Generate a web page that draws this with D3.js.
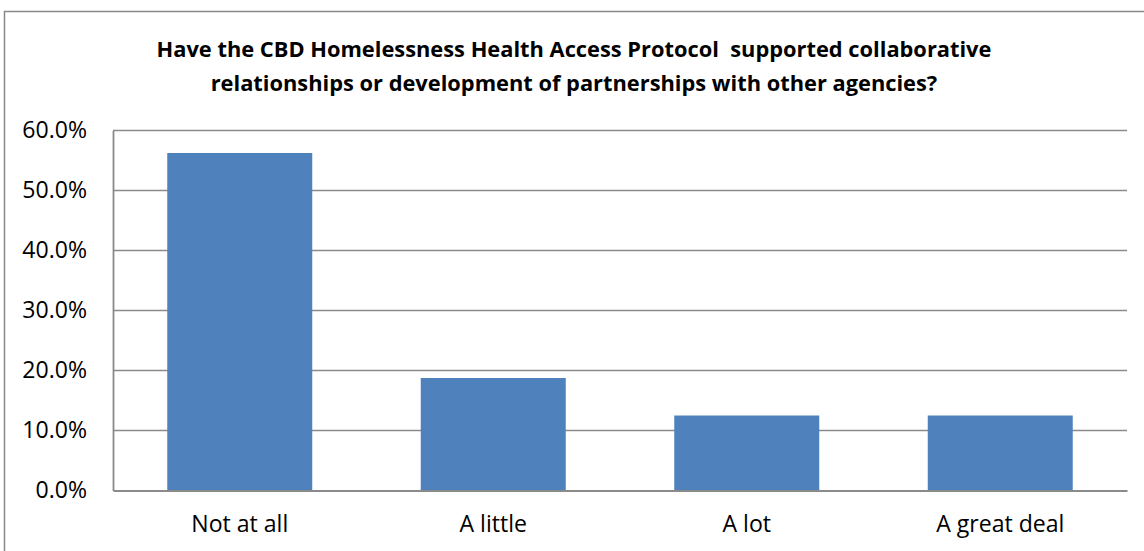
<!DOCTYPE html>
<html>
<head>
<meta charset="utf-8">
<script src="https://cdn.jsdelivr.net/npm/d3@7/dist/d3.min.js"></script>
<style>
  html, body { margin: 0; padding: 0; background: #fff; }
  svg { display: block; }
  text { font-family: "Open Sans", sans-serif; fill: #000; font-variant-ligatures: none; }
</style>
</head>
<body>
<script>
// Survey responses (share of respondents)
const categories = ["Not at all", "A little", "A lot", "A great deal"];
const values = [0.5625, 0.1875, 0.125, 0.125];
const yTicks = [0, 0.1, 0.2, 0.3, 0.4, 0.5, 0.6];
const titleLines = [
  "Have the CBD Homelessness Health Access Protocol  supported collaborative",
  "relationships or development of partnerships with other agencies?"
];

const W = 1144, H = 551;
const plot = { left: 113, right: 1127, top: 130.5, bottom: 490.5 };

const svg = d3.select("body").append("svg")
  .attr("width", W).attr("height", H);

// Pick a font size so that a sample string spans the wanted width
function fitSize(sample, width, weight) {
  const t = svg.append("text").attr("font-size", 100)
    .attr("font-weight", weight).attr("xml:space", "preserve").text(sample);
  const w = t.node().getComputedTextLength();
  t.remove();
  return 100 * width / w;
}

// Chart-area frame (runs off the right and bottom edges)
svg.append("rect")
  .attr("x", 4.5).attr("y", 11.5)
  .attr("width", 1300).attr("height", 700)
  .attr("fill", "#fff").attr("stroke", "#888888").attr("stroke-width", 1.5);

// Title
const titleSize = fitSize(titleLines[0], 835, "bold");
svg.append("g").selectAll("text").data(titleLines).join("text")
  .attr("x", 574).attr("y", (d, i) => 57 + i * 34)
  .attr("text-anchor", "middle")
  .attr("font-weight", "bold").attr("font-size", titleSize)
  .attr("xml:space", "preserve")
  .text(d => d);

const x = d3.scaleBand().domain(categories)
  .range([plot.left, plot.right]).paddingInner(0.428).paddingOuter(0.214);
const y = d3.scaleLinear().domain([0, 0.6]).range([plot.bottom, plot.top]);

// Gridlines
svg.append("g").selectAll("line").data(yTicks.slice(1)).join("line")
  .attr("x1", plot.left).attr("x2", plot.right)
  .attr("y1", d => y(d)).attr("y2", d => y(d))
  .attr("stroke", "#8a8a8a").attr("stroke-width", 1.6);

// Bars
svg.append("g").selectAll("rect").data(values).join("rect")
  .attr("x", (d, i) => x(categories[i]))
  .attr("width", x.bandwidth())
  .attr("y", d => y(d))
  .attr("height", d => y(0) - y(d))
  .attr("fill", "#4f81bd");

const labelSize = fitSize("Not at all", 97, "normal");

// Y axis
const yAxis = d3.axisLeft(y).tickValues(yTicks)
  .tickFormat(d3.format(".1%")).tickSize(0).tickPadding(26);
const gy = svg.append("g").attr("transform", `translate(${plot.left},0)`).call(yAxis);
gy.select(".domain").attr("stroke", "#8a8a8a").attr("stroke-width", 1.8);
gy.selectAll("text").attr("font-size", labelSize).attr("font-family", "'Open Sans', sans-serif")
  .attr("fill", "#000");

// X axis
const xAxis = d3.axisBottom(x).tickSize(0).tickPadding(25);
const gx = svg.append("g").attr("transform", `translate(0,${plot.bottom})`).call(xAxis);
gx.select(".domain").attr("stroke", "#8a8a8a").attr("stroke-width", 1.8);
gx.selectAll("text").attr("font-size", labelSize).attr("font-family", "'Open Sans', sans-serif")
  .attr("fill", "#000");
</script>
</body>
</html>
